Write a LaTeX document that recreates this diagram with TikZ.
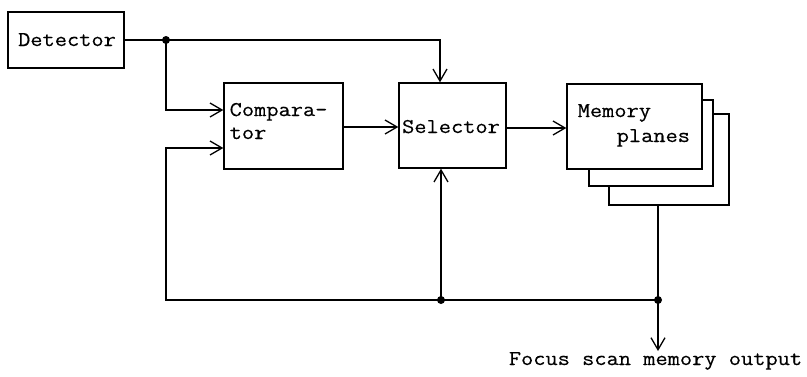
\documentclass[tikz,border=0pt]{standalone}
\usepackage{fontspec}
\setmonofont{Latin Modern Mono}[FakeStretch=1.13,FakeBold=0.4]
\usetikzlibrary{arrows.meta}
\begin{document}
\begin{tikzpicture}[x=1pt,y=-1pt,line width=1.4pt,
  box/.style={draw,fill=white,inner sep=0pt},
  arr/.style={-{Straight Barb[length=12pt,width=14pt,line width=1.3pt]}},
  lbl/.style={font=\ttfamily\fontsize{21}{23}\selectfont,inner sep=0pt},
  dot/.style={circle,fill=black,inner sep=0pt,minimum size=8pt}]
\useasboundingbox (0,0) rectangle (807,376);
% boxes
\node[box,minimum width=116pt,minimum height=56pt] (det) at (66,40) {};
\node[box,minimum width=119pt,minimum height=86pt] (comp) at (283.5,126) {};
\node[box,minimum width=107pt,minimum height=85pt] (sel) at (452.5,125.5) {};
\node[box,minimum width=120pt,minimum height=91pt] (mem3) at (669,159.5) {};
\node[box,minimum width=124pt,minimum height=86pt] (mem2) at (651,143) {};
\node[box,minimum width=135pt,minimum height=85pt] (mem1) at (634.5,126.5) {};
% labels
\node[lbl,anchor=base] (tdet) at (67,46) {Detector};
\node[lbl,anchor=base west] (tcomp1) at (229,116) {Compara-};
\node[lbl,anchor=base west] (tcomp2) at (229,139) {tor};
\node[lbl,anchor=base] (tsel) at (451,133) {Selector};
\node[lbl,anchor=base west] (tmem1) at (577,117) {Memory};
\node[lbl,anchor=base west] (tmem2) at (616,142) {planes};
% junctions
\coordinate (j1) at (166,40);
\coordinate (j2) at (441,300);
\coordinate (j3) at (658,300);
\coordinate (out) at (658,351);
\node[lbl,anchor=base] (tout) at (655.5,365) {Focus scan memory output};
% connectors
\draw[arr] (det.east) -- (j1) -| (sel.north -| 440,0);
\draw[arr] (j1) |- (comp.west |- 0,110);
\draw[arr] (comp.east |- 0,127) -- (sel.west |- 0,127);
\draw[arr] (sel.east |- 0,128) -- (mem1.west |- 0,128);
\draw[arr] (j2) -- (sel.south -| j2);
\draw[arr] (mem3.south -| j3) -- (j3) -| (166,148) -- (comp.west |- 0,148);
\draw[arr] (j3) -- (out);
\node[dot] (d1) at (j1) {};
\node[dot] (d2) at (j2) {};
\node[dot] (d3) at (j3) {};
\end{tikzpicture}
\end{document}
